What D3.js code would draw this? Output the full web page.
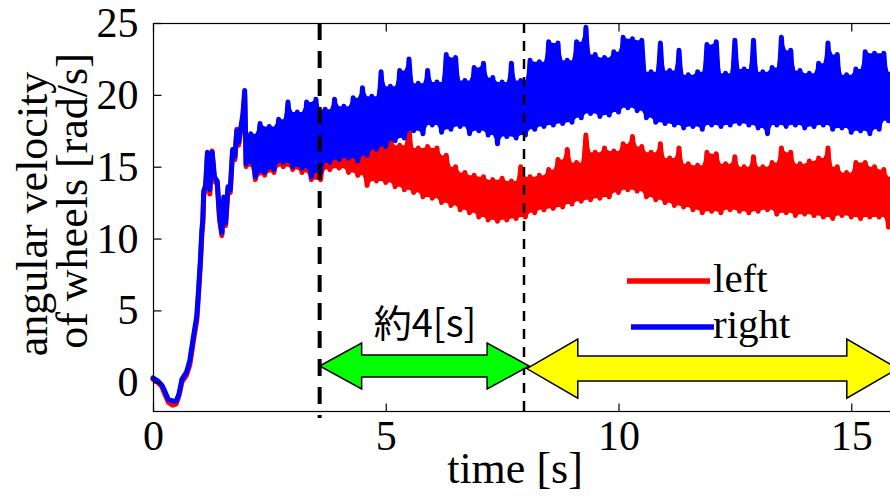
<!DOCTYPE html>
<html>
<head>
<meta charset="utf-8">
<script src="https://cdn.jsdelivr.net/npm/d3@7"></script>
<style>
    body { margin: 0; background: #fff; }
    svg { display: block; font-family: "Liberation Serif", "Times New Roman", serif; }
</style>
</head>
<body>
<div id="chart-area"></div>
<script>
// start-up part, traced point by point (time in s)
var earlyTime  = [0, 0.1, 0.19, 0.25, 0.33, 0.42, 0.5, 0.56, 0.62, 0.72, 0.79, 0.87, 0.94, 0.98, 1.02, 1.05, 1.07, 1.09, 1.13, 1.17, 1.22, 1.27, 1.32, 1.38, 1.43, 1.48, 1.52, 1.56, 1.61, 1.66, 1.71, 1.76, 1.8, 1.84, 1.88, 1.93, 1.97]
var earlyRight = [0.3, 0.1, -0.2, -0.6, -1.2, -1.3, -1.3, -0.8, 0.2, 0.7, 1.5, 3.2, 4.6, 6.5, 8.6, 10.6, 11.3, 13.3, 13.7, 16.0, 13.4, 16.0, 14.3, 14.0, 11.5, 10.4, 12.9, 11.1, 13.6, 13.4, 16.2, 15.7, 17.5, 16.7, 17.6, 18.6, 20.3]
var earlyLeft  = [0.2, 0.0, -0.3, -0.8, -1.4, -1.6, -1.5, -0.9, 0.0, 0.5, 1.2, 2.9, 4.3, 6.2, 8.3, 10.3, 11.0, 13.0, 13.5, 15.9, 13.1, 16.1, 14.0, 13.8, 11.3, 10.2, 12.7, 10.9, 13.4, 13.2, 16.0, 15.5, 17.6, 16.5, 17.4, 18.4, 20.0]

// from 2 s on: one sample every 0.1 s (signal swings low/high)
var noiseStart = 2.0
var noiseStep = 0.1
var rightNoise = [
    15.2, 17.3, 14.3, 18.0, 14.6, 17.8, 14.8, 18.3, 15.3, 19.5,
    15.0, 18.8, 14.9, 19.5, 14.3, 19.7, 14.6, 19.0, 15.3, 19.7,
    15.5, 19.2, 15.6, 19.8, 15.4, 20.5, 15.8, 19.9, 16.2, 21.6,
    16.4, 20.6, 16.8, 21.7, 17.0, 22.5, 17.5, 20.8, 17.3, 21.7,
    17.9, 20.9, 17.4, 22.8, 17.6, 22.6, 17.8, 21.0, 17.3, 21.9,
    17.5, 22.2, 17.2, 21.2, 16.6, 20.9, 17.1, 22.2, 17.0, 21.0,
    17.2, 22.4, 17.6, 22.3, 17.8, 23.7, 17.9, 23.6, 18.0, 22.4,
    18.1, 23.7, 18.4, 24.7, 18.7, 22.8, 18.5, 22.6, 18.6, 23.0,
    18.8, 24.0, 19.1, 23.9, 18.9, 23.8, 18.4, 21.6, 18.1, 23.6,
    18.0, 21.7, 17.9, 23.1, 17.7, 21.4, 17.8, 21.6, 17.6, 23.5,
    17.9, 23.7, 17.8, 21.5, 17.9, 23.8, 18.0, 21.8, 17.9, 23.8,
    17.7, 21.6, 17.3, 21.9, 17.9, 24.0, 17.8, 23.1, 17.9, 21.7,
    17.7, 21.5, 17.8, 22.2, 17.9, 23.6, 17.6, 22.8, 17.7, 21.4,
    17.4, 21.8, 17.5, 23.0, 17.3, 22.9, 17.6, 22.9, 18.2, 21.6,
    18.3
]
var leftNoise = [
    15.0, 17.0, 14.1, 17.8, 14.4, 17.5, 14.6, 18.1, 15.0, 19.2,
    14.8, 18.5, 14.6, 19.2, 14.1, 19.4, 14.1, 17.2, 14.8, 16.8,
    14.9, 16.6, 14.6, 16.9, 14.4, 16.8, 13.7, 17.0, 14.0, 16.7,
    13.9, 16.9, 13.6, 16.5, 13.4, 17.7, 13.2, 16.3, 12.9, 16.4,
    12.8, 16.3, 12.5, 15.8, 12.3, 15.0, 12.0, 14.6, 11.8, 14.4,
    11.5, 14.3, 11.3, 14.1, 11.2, 14.2, 11.3, 14.0, 11.4, 15.0,
    11.5, 14.3, 11.8, 14.4, 12.0, 14.8, 12.1, 15.5, 12.2, 16.2,
    12.4, 15.3, 12.6, 17.2, 12.7, 16.0, 12.8, 16.3, 12.9, 16.1,
    13.2, 16.6, 13.4, 17.1, 13.3, 16.4, 12.9, 16.0, 12.7, 16.6,
    12.5, 15.6, 12.3, 16.3, 12.2, 15.2, 12.0, 15.1, 11.8, 16.0,
    11.9, 15.9, 11.8, 15.2, 12.0, 15.7, 11.9, 15.0, 11.8, 15.7,
    11.9, 15.0, 12.0, 15.3, 11.7, 16.3, 11.8, 16.0, 11.6, 15.2,
    11.7, 15.4, 11.6, 15.6, 11.5, 16.3, 11.4, 15.0, 11.6, 14.6,
    11.5, 15.3, 11.4, 15.3, 11.5, 15.0, 11.5, 14.8, 10.8, 14.3,
    11.2
]

var seriesNames = ["left", "right"]
var seriesColors = ["#ff0000", "#0000ff"]

var markerTimes = [3.58, 7.97]        // dashed vertical lines
var spanTimes = [[3.58, 8.08], [8.03, 16.0]]
var spanLevel = [1.13, 0.95]
var spanLabel = "約4[s]"

var xTicks = [0, 5, 10, 15]
var yTicks = [0, 5, 10, 15, 20, 25]


var svgWidth = 890, svgHeight = 498
var plotLeft = 153, plotTop = 23, plotBottom = 411

var svg = d3.select("#chart-area").append("svg")
    .attr("width", svgWidth)
    .attr("height", svgHeight)
    .style("overflow", "hidden")

var x = d3.scaleLinear().domain([0, 16]).range([plotLeft, plotLeft + 16 * 46.55])
var y = d3.scaleLinear().domain([-2, 25]).range([plotBottom, plotTop])

function buildSeries(early, noise) {
    var pts = earlyTime.map((t, i) => ({t: t, v: early[i]}))
    noise.forEach((v, i) => pts.push({t: noiseStart + i * noiseStep, v: v}))
    return pts
}

var series = [buildSeries(earlyLeft, leftNoise), buildSeries(earlyRight, rightNoise)]

// fill between neighbouring swings so the fast oscillation reads as a band
function envelope(pts) {
    return pts.map((p, i) => {
        var a = i > 0 ? pts[i - 1].v : p.v
        var b = i < pts.length - 1 ? pts[i + 1].v : p.v
        return {t: p.t, lo: Math.min(p.v, Math.max(a, b)), hi: Math.max(p.v, Math.min(a, b))}
    })
}

var area = d3.area()
    .x(d => x(d.t))
    .y0(d => y(d.lo))
    .y1(d => y(d.hi))

var line = d3.line()
    .x(d => x(d.t))
    .y(d => y(d.v))

var dataGroup = svg.append("g").attr("id", "data")
series.forEach((pts, k) => {
    dataGroup.append("path")
        .attr("d", area(envelope(pts)))
        .attr("fill", seriesColors[k])
    dataGroup.append("path")
        .attr("d", line(pts))
        .attr("fill", "none")
        .attr("stroke", seriesColors[k])
        .attr("stroke-width", 5)
        .attr("stroke-linejoin", "round")
        .attr("stroke-linecap", "round")
})

// frame
svg.append("rect")
    .attr("x", plotLeft + 0.5)
    .attr("y", plotTop + 0.5)
    .attr("width", x(16) - plotLeft)
    .attr("height", plotBottom - plotTop)
    .attr("fill", "none")
    .attr("stroke", "#000")
    .attr("stroke-width", 1.2)

var leftAxis = d3.axisLeft(y).tickValues(yTicks).tickSizeInner(-8).tickSizeOuter(0).tickPadding(15)
var botAxis = d3.axisBottom(x).tickValues(xTicks).tickSizeInner(-8).tickSizeOuter(0).tickPadding(9)
var topAxis = d3.axisTop(x).tickValues(xTicks).tickSizeInner(-8).tickSizeOuter(0).tickFormat("")

var gy = svg.append("g").attr("transform", `translate(${plotLeft + 0.5},0)`).call(leftAxis)
var gx = svg.append("g").attr("transform", `translate(0,${plotBottom + 0.5})`).call(botAxis)
var gt = svg.append("g").attr("transform", `translate(0,${plotTop + 0.5})`).call(topAxis)

;[gy, gx, gt].forEach(g => {
    g.select(".domain").remove()
    g.attr("font-family", null).attr("font-size", null)
    g.selectAll("line").attr("stroke", "#000").attr("stroke-width", 1.2)
    g.selectAll("text").attr("fill", "#000").style("font-size", "42px")
})

// dashed markers
var markerStyle = [{w: 4, dash: "17,11", end: 418}, {w: 2.5, dash: "10,8", end: plotBottom}]
markerTimes.forEach((t, i) => {
    svg.append("line")
        .attr("x1", x(t)).attr("x2", x(t))
        .attr("y1", plotTop).attr("y2", markerStyle[i].end)
        .attr("stroke", "#000")
        .attr("stroke-width", markerStyle[i].w)
        .attr("stroke-dasharray", markerStyle[i].dash)
})

// double headed arrows
function doubleArrow(x0, x1, cy, shaft, head, len) {
    return `M${x0},${cy} L${x0 + len},${cy - head} L${x0 + len},${cy - shaft} L${x1 - len},${cy - shaft} ` +
        `L${x1 - len},${cy - head} L${x1},${cy} L${x1 - len},${cy + head} L${x1 - len},${cy + shaft} ` +
        `L${x0 + len},${cy + shaft} L${x0 + len},${cy + head} Z`
}
var arrowStyle = [{fill: "#00ff00", shaft: 11, head: 23, len: 42}, {fill: "#ffff00", shaft: 12.5, head: 29.5, len: 51}]
spanTimes.forEach((s, i) => {
    var st = arrowStyle[i]
    svg.append("path")
        .attr("d", doubleArrow(x(s[0]), x(s[1]), y(spanLevel[i]), st.shaft, st.head, st.len))
        .attr("fill", st.fill)
        .attr("stroke", "#000")
        .attr("stroke-width", 1.5)
        .attr("stroke-linejoin", "miter")
})

svg.append("text")
    .attr("x", 425)
    .attr("y", 337)
    .attr("text-anchor", "middle")
    .style("font-family", "'Noto Sans CJK JP', 'Noto Sans', sans-serif")
    .style("font-size", "38px")
    .text(spanLabel)

// legend
var legendRows = [{x1: 627, x2: 710, y: 281, ty: 292}, {x1: 631, x2: 714, y: 327, ty: 338}]
seriesNames.forEach((name, i) => {
    var r = legendRows[i]
    svg.append("line")
        .attr("x1", r.x1).attr("x2", r.x2)
        .attr("y1", r.y).attr("y2", r.y)
        .attr("stroke", seriesColors[i])
        .attr("stroke-width", 5.5)
    svg.append("text")
        .attr("x", 713)
        .attr("y", r.ty)
        .style("font-size", "41px")
        .text(name)
})

// axis titles
svg.append("text")
    .attr("x", 515)
    .attr("y", 483)
    .attr("text-anchor", "middle")
    .style("font-size", "44px")
    .text("time [s]")

svg.append("text")
    .attr("transform", "translate(47,214) rotate(-90)")
    .attr("text-anchor", "middle")
    .style("font-size", "44px")
    .text("angular velocity")

svg.append("text")
    .attr("transform", "translate(87,201) rotate(-90)")
    .attr("text-anchor", "middle")
    .style("font-size", "44px")
    .text("of wheels [rad/s]")
</script>
</body>
</html>
